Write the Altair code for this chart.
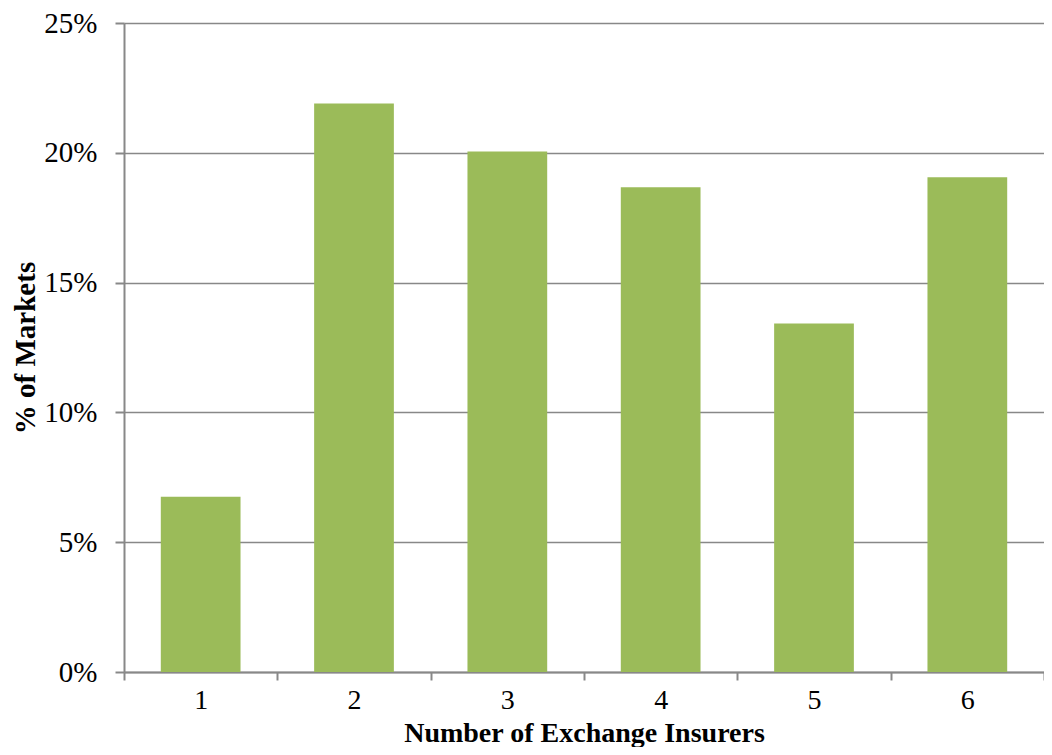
import altair as alt
import pandas as pd

categories = ["1", "2", "3", "4", "5", "6"]
values = [6.75, 21.9, 20.05, 18.67, 13.42, 19.06]
y_ticks = [0, 5, 10, 15, 20, 25]

df = pd.DataFrame({"insurers": categories, "pct": [v / 100 for v in values]})

FONT = "Liberation Serif"
GRAY = "#888888"
FS = 29
FSX = 28

chart = (
    alt.Chart(df)
    .mark_bar(color="#9BBB59", width=alt.RelativeBandSize(0.52))
    .encode(
        x=alt.X(
            "insurers:N",
            sort=categories,
            scale=alt.Scale(paddingInner=0, paddingOuter=0),
            axis=alt.Axis(
                title="Number of Exchange Insurers",
                labelAngle=0,
                tickBand="extent",
                tickSize=8,
                tickColor=GRAY,
                tickWidth=2,
                domainColor=GRAY,
                domainWidth=2,
                labelFont=FONT,
                labelFontSize=FSX,
                labelColor="black",
                labelPadding=6,
                titleFont=FONT,
                titleFontSize=FSX,
                titleFontWeight="bold",
                titleColor="black",
                titleBaseline="bottom",
                titleY=75,
                grid=False,
            ),
        ),
        y=alt.Y(
            "pct:Q",
            scale=alt.Scale(domain=[0, 0.25], nice=False),
            axis=alt.Axis(
                title="% of Markets",
                format=".0%",
                values=[t / 100 for t in y_ticks],
                tickSize=9,
                tickColor=GRAY,
                tickWidth=2,
                domainColor=GRAY,
                domainWidth=2,
                gridColor=GRAY,
                gridWidth=1.5,
                labelFont=FONT,
                labelFontSize=FS,
                labelColor="black",
                labelPadding=18,
                titleFont=FONT,
                titleFontSize=FS,
                titleFontWeight="bold",
                titleColor="black",
                titlePadding=3,
            ),
        ),
    )
    .properties(
        width=920,
        height=649,
        autosize="none",
        padding={"left": 116, "top": 15, "right": 0, "bottom": 75},
    )
    .configure_view(stroke=None)
    .configure(background="white")
)

chart.save("out.html", embed_options={"renderer": "svg", "actions": False})
